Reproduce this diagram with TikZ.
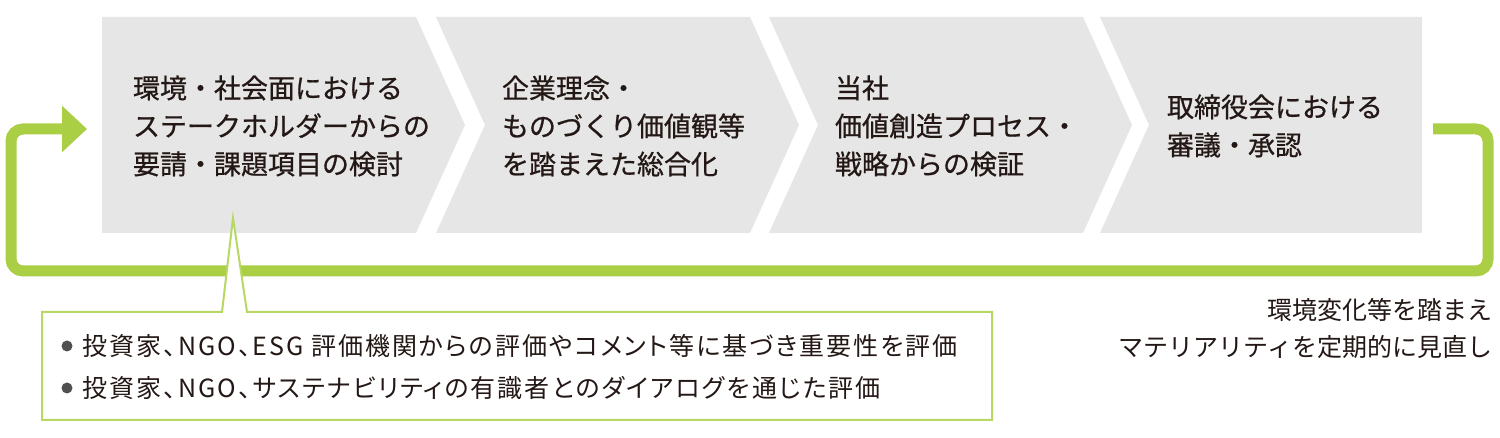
\documentclass[tikz,border=0pt]{standalone}
\usepackage{fontspec}
\setmainfont{Noto Sans CJK JP}
\newfontfamily\palfont[RawFeature=+palt,LetterSpace=8]{Noto Sans CJK JP}
\newfontfamily\stepfont[FakeBold=0.7]{Noto Sans CJK JP}
\usetikzlibrary{arrows.meta}

\begin{document}
\begin{tikzpicture}[x=0.5pt,y=0.5pt]
\definecolor{fillColor}{RGB}{255,255,255}
\path[use as bounding box,fill=fillColor] (0,0) rectangle (1500,438);
\definecolor{boxColor}{RGB}{230,230,230}
\definecolor{textColor}{RGB}{35,24,21}
\definecolor{loopColor}{RGB}{170,206,68}
\definecolor{lineColor}{RGB}{184,215,100}
\definecolor{dotColor}{RGB}{80,80,80}
\tikzset{
  steptext/.style={text=textColor,anchor=west,align=left,inner sep=0pt,outer sep=0pt,font=\stepfont\fontsize{13.5}{19}\selectfont},
  notetext/.style={text=textColor,anchor=east,align=right,inner sep=0pt,outer sep=0pt,font=\fontsize{12.5}{18.5}\selectfont},
  calltext/.style={text=textColor,anchor=west,align=left,inner sep=0pt,outer sep=0pt,font=\palfont\fontsize{12.5}{21}\selectfont},
  dot/.style={circle,fill=dotColor,inner sep=0pt,minimum size=5.5pt},
  loopline/.style={draw=loopColor,line width=5.5pt,rounded corners=6pt,-{Triangle[length=12.5pt,width=22.5pt]}}
}

\path[fill=boxColor] (102,421) -- (416,421) -- (465,313) -- (416,205) -- (102,205) -- cycle;
\path[fill=boxColor] (436,421) -- (750,421) -- (799,313) -- (750,205) -- (436,205) -- (485,313) -- cycle;
\path[fill=boxColor] (769,421) -- (1083,421) -- (1132,313) -- (1083,205) -- (769,205) -- (818,313) -- cycle;
\path[fill=boxColor] (1100,421) -- (1422,421) -- (1422,205) -- (1100,205) -- (1149,313) -- cycle;

\node[steptext] (step1) at (133,312) {環境・社会面における\\ステークホルダーからの\\要請・課題項目の検討};
\node[steptext] (step2) at (502,312) {企業理念・\\ものづくり価値観等\\を踏まえた総合化};
\node[steptext] (step3) at (835,312) {当社\\価値創造プロセス・\\戦略からの検証};
\node[steptext] (step4) at (1167,312) {取締役会における\\審議・承認};

\coordinate (loopout) at (1433,309);
\coordinate (loopin) at (87,309);
\draw[loopline] (loopout) -- (1488,309) -- (1488,167) -- (11,167) -- (11,309) -- (loopin);

\node[notetext] (note) at (1492,109) {環境変化等を踏まえ\\マテリアリティを定期的に見直し};

\path[draw=lineColor,fill=fillColor,line width=1pt] (42,126) -- (222,126) -- (233,220) -- (247,126) -- (992,126) -- (992,18) -- (42,18) -- cycle;

\node[dot] (dot1) at (67,92) {};
\node[dot] (dot2) at (67,50) {};
\node[calltext] (voice) at (83,71) {投資家、NGO、ESG 評価機関からの評価やコメント等に基づき重要性を評価\\投資家、NGO、サステナビリティの有識者とのダイアログを通じた評価};
\end{tikzpicture}
\end{document}
